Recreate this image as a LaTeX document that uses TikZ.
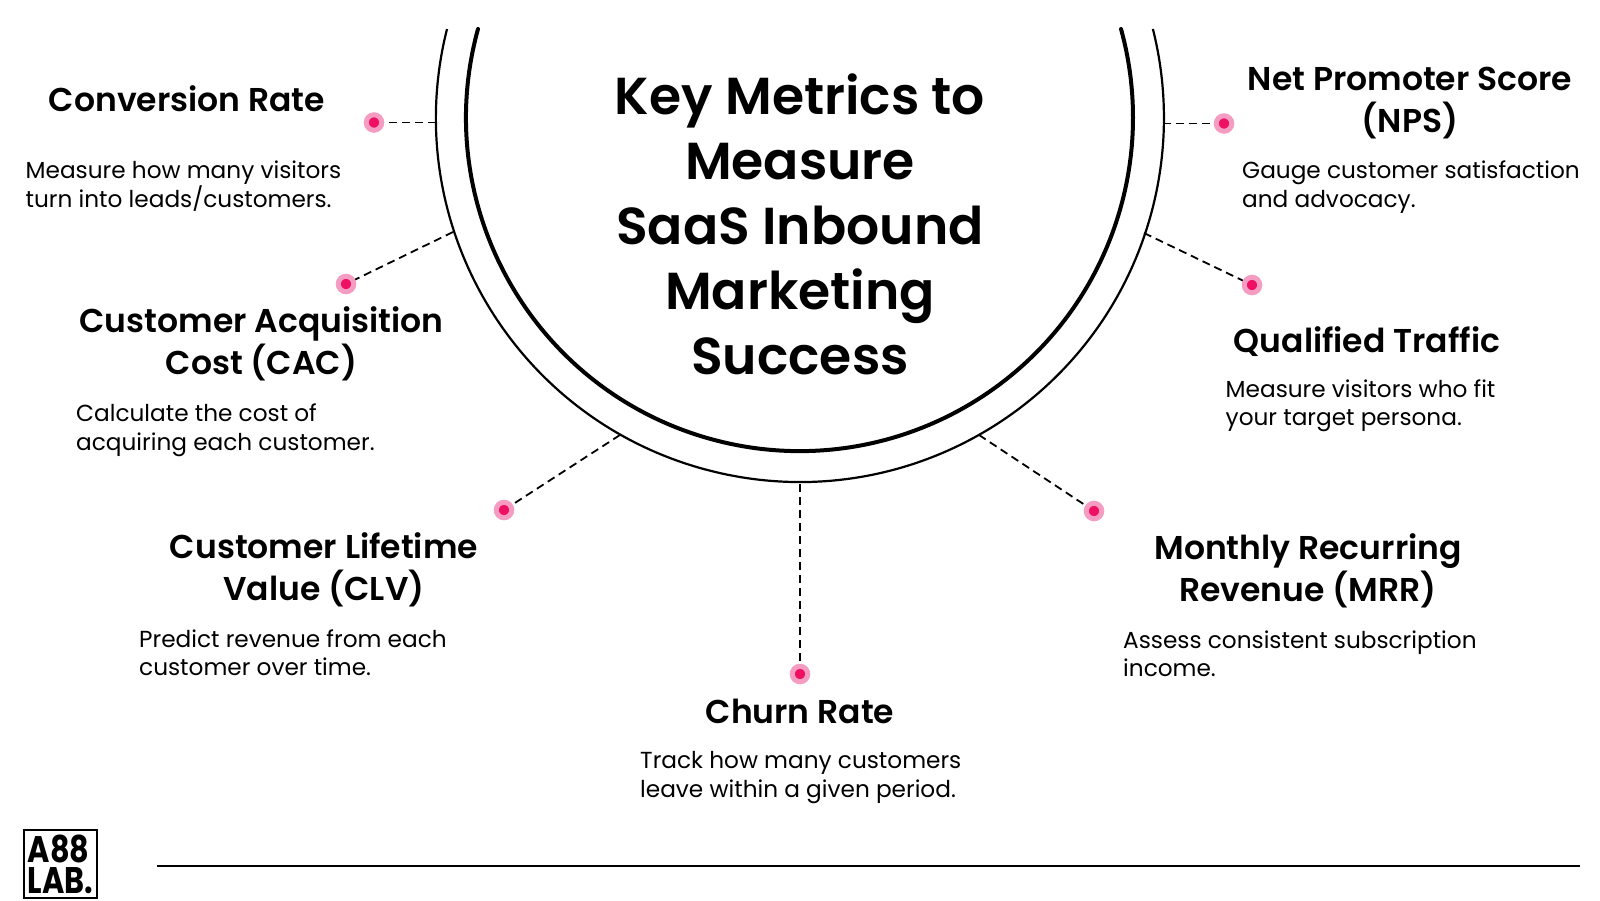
\documentclass[tikz,border=0pt]{standalone}
\usepackage{fontspec}
\setmainfont{Poppins}[BoldFont=* SemiBold]
\newfontfamily\logofont{Poppins}[UprightFont=* Bold, FakeStretch=0.82]
\definecolor{halo}{HTML}{F59CC3}
\definecolor{core}{HTML}{EE1163}
\begin{document}
\begin{tikzpicture}[x=1pt,y=-1pt,
    metricdot/.style ={circle, draw=halo, fill=core, line width=5pt, inner sep=0pt, minimum size=15.5pt},
    spoke/.style ={line width=1.8pt, dash pattern=on 8pt off 5pt},
    titletext/.style ={font=\fontsize{52}{65}\selectfont\bfseries, align=center, anchor=base},
    headtext/.style ={font=\fontsize{33}{42}\selectfont\bfseries, align=center, anchor=base},
    desctext/.style ={font=\fontsize{23.2}{28.5}\selectfont, align=left, anchor=base west, inner sep=0pt}]
   \useasboundingbox (0,0) rectangle (1600,900);
   \fill[white] (0,0) rectangle (1600,900);
   % the two rings
   \draw[line width=2.2pt] (447,29) arc[start angle=165.85, end angle=374.15, radius=364pt];
   \draw[line width=4pt, line cap=round] (478,29) arc[start angle=164.6, end angle=375.4, radius=333.5pt];
   % title
   \node[titletext] (title) at (800,374.5) {Key Metrics to\\Measure\\SaaS Inbound\\Marketing\\Success};
   % dots
   \node[metricdot] (conv) at (374,122.5) {};
   \node[metricdot] (cac) at (346,284) {};
   \node[metricdot] (clv) at (504,510) {};
   \node[metricdot] (churn) at (800,674) {};
   \node[metricdot] (mrr) at (1094,511) {};
   \node[metricdot] (qual) at (1252,285) {};
   \node[metricdot] (nps) at (1224,123.5) {};
   % ends on the outer ring
   \coordinate (rimconv) at (436,122.5);
   \coordinate (rimcac) at (453,232);
   \coordinate (rimclv) at (620,435);
   \coordinate (rimchurn) at (800,484);
   \coordinate (rimmrr) at (979,435);
   \coordinate (rimqual) at (1144,233);
   \coordinate (rimnps) at (1163,123.5);
   \draw[spoke] (rimconv) to (conv);
   \draw[spoke] (rimcac) to (cac);
   \draw[spoke] (rimclv) to (clv);
   \draw[spoke] (rimchurn) to (churn);
   \draw[spoke] (rimmrr) to (mrr);
   \draw[spoke] (rimqual) to (qual);
   \draw[spoke] (rimnps) to (nps);
   % headings
   \node[headtext] (convhead) at (187,111.5) {Conversion Rate};
   \node[headtext] (cachead) at (261.5,374.5) {Customer Acquisition\\Cost (CAC)};
   \node[headtext] (clvhead) at (324,600) {Customer Lifetime\\Value (CLV)};
   \node[headtext] (churnhead) at (800,723.5) {Churn Rate};
   \node[headtext] (mrrhead) at (1308,601) {Monthly Recurring\\Revenue (MRR)};
   \node[headtext] (qualhead) at (1367,352) {Qualified Traffic};
   \node[headtext] (npshead) at (1410,132) {Net Promoter Score\\(NPS)};
   % descriptions
   \node[desctext] (convtext) at (25.5,207) {Measure how many visitors\\turn into leads/customers.};
   \node[desctext] (cactext) at (76,450) {Calculate the cost of\\acquiring each customer.};
   \node[desctext] (clvtext) at (139,675.5) {Predict revenue from each\\customer over time.};
   \node[desctext] (churntext) at (640,797) {Track how many customers\\leave within a given period.};
   \node[desctext] (mrrtext) at (1123,676.5) {Assess consistent subscription\\income.};
   \node[desctext] (qualtext) at (1225.5,425.5) {Measure visitors who fit\\your target persona.};
   \node[desctext] (npstext) at (1242,207) {Gauge customer satisfaction\\and advocacy.};
   % logo and rule
   \node[draw, line width=2.5pt, minimum width=73pt, minimum height=68pt, inner sep=0pt, align=left,
     font=\fontsize{37}{31}\logofont] (logo) at (60.5,864) {A88\\LAB.};
   \coordinate (ruleL) at (157,866);
   \coordinate (ruleR) at (1580,866);
   \draw[line width=2pt] (ruleL) -- (ruleR);
 \end{tikzpicture}
\end{document}
